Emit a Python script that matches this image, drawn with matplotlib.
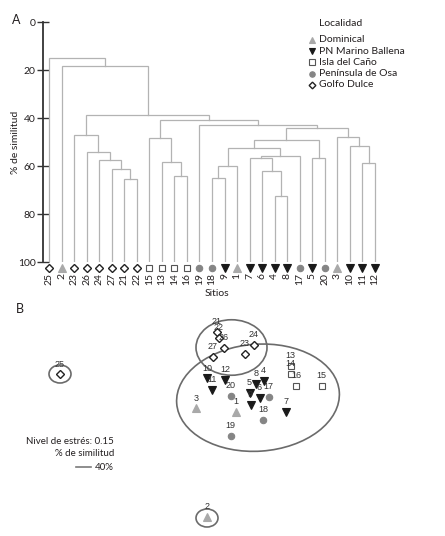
import matplotlib
matplotlib.use("Agg")
import matplotlib.pyplot as plt
from matplotlib.patches import Ellipse
from matplotlib.lines import Line2D

plt.rcParams["font.family"] = ["Lato", "DejaVu Sans"]

W, H = 445, 536
TXT = "#231f20"

# ---------- panel A: dendrograma ----------
LEAF_ORDER = [25, 2, 23, 26, 24, 27, 21, 22, 15, 13, 14, 16, 19, 18, 9, 1,
              7, 6, 4, 8, 17, 5, 20, 3, 10, 11, 12]

# (nombre, izquierda, derecha, % similitud)
MERGES = [
    ("c1", 21, 22, 65.3),
    ("c2", 27, "c1", 61.3),
    ("c3", 24, "c2", 57.6),
    ("c4", 26, "c3", 54.0),
    ("c5", 23, "c4", 47.0),
    ("c6", 14, 16, 64.2),
    ("c7", 13, "c6", 58.3),
    ("c8", 15, "c7", 48.5),
    ("c9", 18, 9, 64.9),
    ("c10", "c9", 1, 60.0),
    ("c11", 4, 8, 72.4),
    ("c12", 6, "c11", 62.0),
    ("c13", 7, "c12", 56.8),
    ("c14", "c13", 17, 55.7),
    ("c15", "c10", "c14", 52.6),
    ("c16", 5, 20, 56.8),
    ("c17", "c15", "c16", 49.2),
    ("c18", 11, 12, 58.9),
    ("c19", 10, "c18", 51.5),
    ("c20", 3, "c19", 47.8),
    ("c21", "c17", "c20", 44.3),
    ("c22", 19, "c21", 42.9),
    ("c23", "c8", "c22", 41.0),
    ("c24", "c5", "c23", 38.75),
    ("c25", 2, "c24", 18.5),
    ("c26", 25, "c25", 15.0),
]

GROUPS = ["Dominical", "PN Marino Ballena", "Isla del Caño", "Península de Osa", "Golfo Dulce"]
GROUP_SITES = {
    "Dominical": [1, 2, 3],
    "PN Marino Ballena": [4, 5, 6, 7, 8, 9, 10, 11, 12],
    "Isla del Caño": [13, 14, 15, 16],
    "Península de Osa": [17, 18, 19, 20],
    "Golfo Dulce": [21, 22, 23, 24, 25, 26, 27],
}

# ---------- panel B: NMDS ----------
NMDS_SITE = [25, 2, 21, 22, 26, 27, 24, 23, 10, 12, 11, 20, 8, 4, 5, 6, 17,
             9, 1, 18, 7, 3, 19, 13, 14, 16, 15]
NMDS_X = [-1.70, -0.233, -0.13, -0.11, -0.06, -0.17, 0.235, 0.15, -0.227, -0.05,
          -0.183, 0.01, 0.26, 0.335, 0.195, 0.295, 0.385, 0.205, 0.06, 0.333,
          0.563, -0.343, 0.007, 0.605, 0.605, 0.66, 0.917]
NMDS_Y = [0.257, -1.167, 0.68, 0.625, 0.52, 0.435, 0.555, 0.465, 0.217, 0.20,
          0.10, 0.04, 0.165, 0.19, 0.075, 0.025, 0.03, -0.05, -0.12, -0.20,
          -0.12, -0.083, -0.357, 0.34, 0.26, 0.143, 0.143]
STRESS = 0.15
SIM_LEVEL = 40

# contornos al 40 % de similitud: centro x, centro y, ancho, alto, angulo
HULL_X = [0.28, 0.015, -1.70, -0.23]
HULL_Y = [0.023, 0.525, 0.26, -1.18]
HULL_W = [1.63, 0.71, 0.22, 0.22]
HULL_H = [1.07, 0.555, 0.18, 0.18]
HULL_ANG = [4, 0, 0, 0]

STYLE = {
    "Dominical": dict(marker="^", mfc="#a9a9a9", mec="#a9a9a9", ms=5.2, mew=0.8),
    "PN Marino Ballena": dict(marker="v", mfc="#1a1a1a", mec="#1a1a1a", ms=5.2, mew=0.8),
    "Isla del Caño": dict(marker="s", mfc="white", mec="#555555", ms=4.6, mew=0.8),
    "Península de Osa": dict(marker="o", mfc="#858585", mec="#858585", ms=4.6, mew=0.8),
    "Golfo Dulce": dict(marker="D", mfc="white", mec="#222222", ms=4.0, mew=1.0),
}


def site_group(site):
    for g in GROUPS:
        if site in GROUP_SITES[g]:
            return g
    return None


def fx(px):
    return px / W


def fy(py):
    return 1 - py / H


fig = plt.figure(figsize=(W / 100, H / 100), dpi=100)

# ---- A ----
ax = fig.add_axes([fx(42.7), fy(262), (381.3 - 42.7) / W, 240 / H])
pos = {s: i for i, s in enumerate(LEAF_ORDER)}
hgt = {s: 100.0 for s in LEAF_ORDER}
for name, left, right, h in MERGES:
    xl, xr = pos[left], pos[right]
    yl, yr = hgt[left], hgt[right]
    ax.plot([xl, xl, xr, xr], [yl, h, h, yr], color="#b3b3b3", lw=0.9,
            solid_joinstyle="miter")
    pos[name] = (xl + xr) / 2
    hgt[name] = h

for i, s in enumerate(LEAF_ORDER):
    ax.plot(i, 102.7, linestyle="none", clip_on=False, **STYLE[site_group(s)])

ax.set_xlim(-0.5, len(LEAF_ORDER) - 0.5)
ax.set_ylim(100, 0)
ax.set_yticks([0, 20, 40, 60, 80, 100])
ax.set_xticks(range(len(LEAF_ORDER)))
ax.set_xticklabels([str(s) for s in LEAF_ORDER], rotation=90)
ax.tick_params(axis="x", length=0, pad=8, labelsize=7.5, labelcolor=TXT)
ax.tick_params(axis="y", direction="inout", length=8.4, width=1.0, pad=1,
               labelsize=7.5, labelcolor=TXT, color="#333333")
for sp in ["top", "right", "bottom"]:
    ax.spines[sp].set_visible(False)
ax.spines["left"].set_color("#333333")
ax.spines["left"].set_linewidth(1.3)
ax.patch.set_alpha(0)

fig.text(fx(217), fy(294), "Sitios", ha="center", va="center", fontsize=7.5, color=TXT)
fig.text(fx(15), fy(142), "% de similitud", ha="center", va="center", rotation=90,
         fontsize=7.5, color=TXT)
fig.text(fx(16), fy(20), "A", ha="center", va="center", fontsize=9, color=TXT)

# leyenda
fig.text(fx(319), fy(23), "Localidad", ha="left", va="center", fontsize=7.5, color=TXT)
for k, g in enumerate(GROUPS):
    yy = 40 + k * 11.2
    st = dict(STYLE[g])
    st["ms"] = st["ms"] * 0.85
    fig.add_artist(Line2D([fx(312)], [fy(yy)], linestyle="none", **st))
    fig.text(fx(319), fy(yy), g, ha="left", va="center", fontsize=7.5, color=TXT)

# ---- B ----
bx = fig.add_axes([0, 0, 1, fy(300)])
bx.set_xlim(-2.30, 2.15)
bx.set_ylim(-1.36, 1.00)
bx.axis("off")

for cx, cy, w, h, a in zip(HULL_X, HULL_Y, HULL_W, HULL_H, HULL_ANG):
    bx.add_patch(Ellipse((cx, cy), w, h, angle=a, fill=False, ec="#6b6b6b", lw=1.2))

for s, x, y in zip(NMDS_SITE, NMDS_X, NMDS_Y):
    bx.plot(x, y, linestyle="none", **STYLE[site_group(s)])
for s, x, y in zip(NMDS_SITE, NMDS_X, NMDS_Y):
    bx.annotate(str(s), (x, y), xytext=(0, 7.3), textcoords="offset points",
                ha="center", va="center", fontsize=6.5, color="#333333",
                family=["Liberation Sans", "DejaVu Sans"])

fig.text(fx(20), fy(309), "B", ha="center", va="center", fontsize=9, color=TXT)
fig.text(fx(114), fy(441), f"Nivel de estrés: {STRESS:.2f}", ha="right", va="center",
         fontsize=7, color=TXT)
fig.text(fx(114), fy(454), "% de similitud", ha="right", va="center", fontsize=7, color=TXT)
fig.text(fx(114), fy(467), f"{SIM_LEVEL}%", ha="right", va="center", fontsize=7, color=TXT)
fig.add_artist(Line2D([fx(76), fx(91)], [fy(467), fy(467)], color="#7a7a7a", lw=1.2))

fig.savefig("out.png", dpi=100)
